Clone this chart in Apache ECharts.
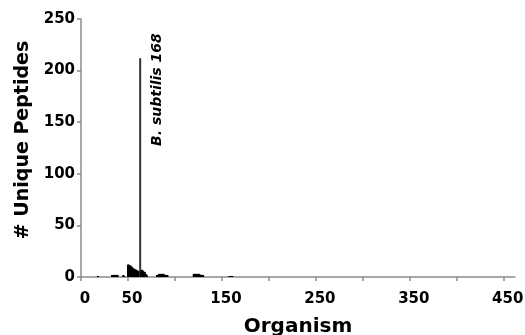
<!DOCTYPE html>
<html><head><meta charset="utf-8">
<script src="https://cdn.jsdelivr.net/npm/echarts@6/dist/echarts.min.js"></script>
<style>html,body{margin:0;padding:0;background:#fff}#c{width:525px;height:335px}</style>
</head><body><div id="c"></div>
<script>
const organismIds = [18, 33,34,35,36,37,38,39, 45,46, 50,51,52,53,54,55,56,57,58,59,60,61,62,63,64,65,66,67,68,69,70, 81,82,83,84,85,86,87,88,89,90,91,92, 120,121,122,123,124,125,126,127,128,129,130, 158,159,160,161];
const uniquePeptides = [1, 2,2,2,2,2,2,2, 2,1, 12,12,11,11,10,9,8,8,7,7,6,6,5,212,6,7,6,5,5,3,2, 2,2,3,3,3,3,3,3,2,2,2,2, 3,3,3,3,3,3,3,2,2,2,2, 1,1,1,1];
const xTickValues = [0,50,100,150,200,250,300,350,400,450];
const xLabelValues = [0,50,150,250,350,450];
const annotation = {organism: 63, value: 212, text: 'B. subtilis 168'};

const FONT = 'DejaVu Sans';
const chart = echarts.init(document.getElementById('c'));
chart.setOption({
  animation: false,
  grid: {left: 81, right: 10, top: 19, bottom: 58, containLabel: false, outerBoundsMode: 'none'},
  xAxis: {
    type: 'value', min: 0, max: 462, interval: 50,
    name: 'Organism', nameLocation: 'middle', nameGap: 40,
    nameTextStyle: {fontFamily: FONT, fontWeight: 'bold', fontSize: 20, color: '#000'},
    axisLine: {show: true, lineStyle: {color: '#8c8c8c', width: 1.5}},
    axisTick: {show: true, length: 4, customValues: xTickValues, lineStyle: {color: '#8c8c8c', width: 1.5}},
    axisLabel: {customValues: xLabelValues, fontFamily: FONT, fontWeight: 'bold', fontSize: 15, color: '#000', margin: 15, padding: [0,0,0,8]},
    splitLine: {show: false}
  },
  yAxis: {
    type: 'value', min: 0, max: 250, interval: 50,
    name: '# Unique Peptides', nameLocation: 'middle', nameGap: 45,
    nameTextStyle: {fontFamily: FONT, fontWeight: 'bold', fontSize: 19, color: '#000', padding: [0,0,0,16]},
    axisLine: {show: true, lineStyle: {color: '#8c8c8c', width: 1.5}},
    axisTick: {show: true, length: 4, lineStyle: {color: '#8c8c8c', width: 1.5}},
    axisLabel: {fontFamily: FONT, fontWeight: 'bold', fontSize: 15, color: '#000', margin: 6},
    splitLine: {show: false}
  },
  series: [{
    type: 'bar', barWidth: 2,
    data: organismIds.map((id, i) => ({
      value: [id, uniquePeptides[i]],
      itemStyle: {color: uniquePeptides[i] > 100 ? '#333' : '#000'}
    }))
  }]
});
const p = chart.convertToPixel({gridIndex: 0}, [annotation.organism, annotation.value]);
chart.setOption({
  graphic: [{
    type: 'text', x: p[0] + 17, y: p[1] - 25, rotation: Math.PI / 2,
    style: {text: annotation.text, fontFamily: FONT, fontStyle: 'italic', fontWeight: 'bold', fontSize: 14,
      fill: '#000', align: 'right', verticalAlign: 'middle'}
  }]
});
</script></body></html>
